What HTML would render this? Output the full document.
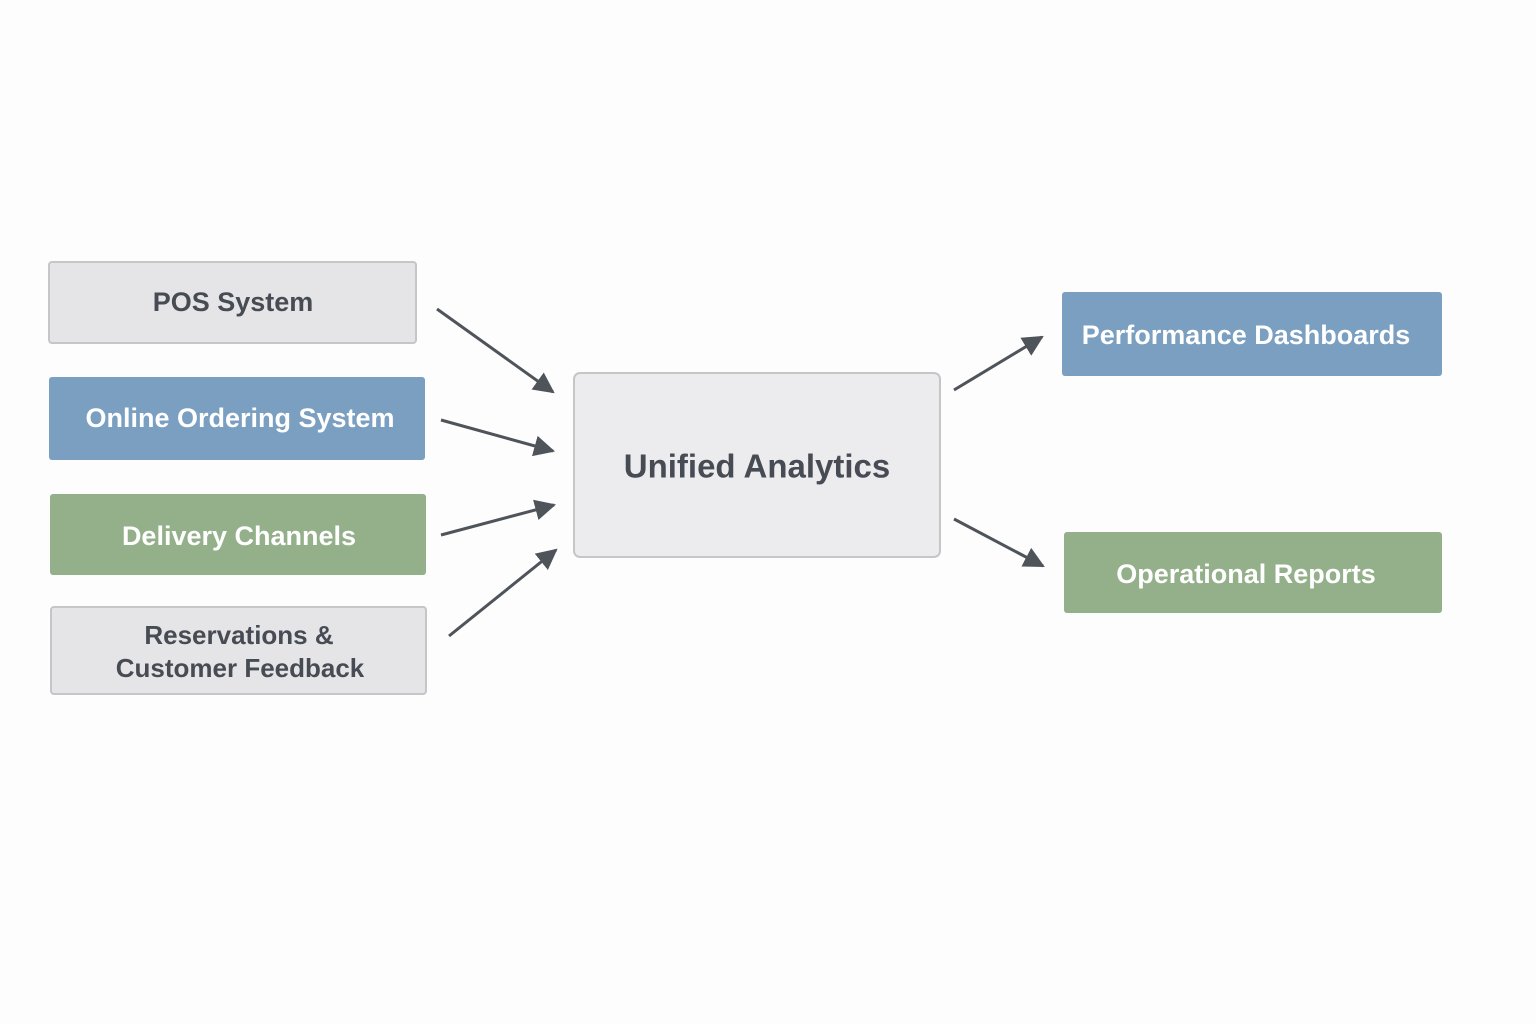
<!DOCTYPE html>
<html><head><meta charset="utf-8"><style>
html,body{margin:0;padding:0;background:#fdfdfd;}
svg{display:block;}
text{font-family:"Liberation Sans",sans-serif;font-weight:bold;text-anchor:middle;dominant-baseline:central;}
</style></head><body>
<svg width="1536" height="1024" viewBox="0 0 1536 1024" xmlns="http://www.w3.org/2000/svg">
<defs>
<marker id="ah" markerWidth="8" markerHeight="8" refX="6" refY="4" orient="auto" markerUnits="userSpaceOnUse" viewBox="0 0 8 8">
</marker>
<marker id="a" viewBox="0 0 10 10" refX="9" refY="5" markerWidth="7" markerHeight="7" orient="auto"><path d="M0,0 L10,5 L0,10 z" fill="#4f545b"/></marker>
</defs>
<rect width="1536" height="1024" fill="#fdfdfd"/>
<rect x="49" y="262" width="367" height="81" rx="3" fill="#e5e5e7" stroke="#c6c6c9" stroke-width="2"/>
<text x="233" y="302" font-size="27" fill="#474c54">POS System</text>
<rect x="49" y="377" width="376" height="83" rx="3" fill="#7a9fc0"/>
<text x="240" y="418" font-size="27" fill="#fff">Online Ordering System</text>
<rect x="50" y="494" width="376" height="81" rx="3" fill="#93b08a"/>
<text x="239" y="536" font-size="27" fill="#fff">Delivery Channels</text>
<rect x="51" y="607" width="375" height="87" rx="3" fill="#e5e5e7" stroke="#c6c6c9" stroke-width="2"/>
<text x="239" y="635" font-size="26" fill="#474c54">Reservations &amp;</text>
<text x="240" y="668" font-size="26" fill="#474c54">Customer Feedback</text>
<rect x="574" y="373" width="366" height="184" rx="6" fill="#ececee" stroke="#c6c6c9" stroke-width="2"/>
<text x="757" y="466" font-size="33" fill="#474c54">Unified Analytics</text>
<rect x="1062" y="292" width="380" height="84" rx="3" fill="#7a9fc0"/>
<text x="1246" y="335" font-size="27" fill="#fff">Performance Dashboards</text>
<rect x="1064" y="532" width="378" height="81" rx="3" fill="#93b08a"/>
<text x="1246" y="574" font-size="27" fill="#fff">Operational Reports</text>
<g stroke="#4f545b" stroke-width="3" marker-end="url(#a)">
<line x1="437" y1="309" x2="553" y2="392"/>
<line x1="441" y1="420" x2="553" y2="451"/>
<line x1="441" y1="535" x2="554" y2="505"/>
<line x1="449" y1="636" x2="556" y2="550"/>
<line x1="954" y1="390" x2="1042" y2="337"/>
<line x1="954" y1="519" x2="1043" y2="566"/>
</g>
</svg>
</body></html>
